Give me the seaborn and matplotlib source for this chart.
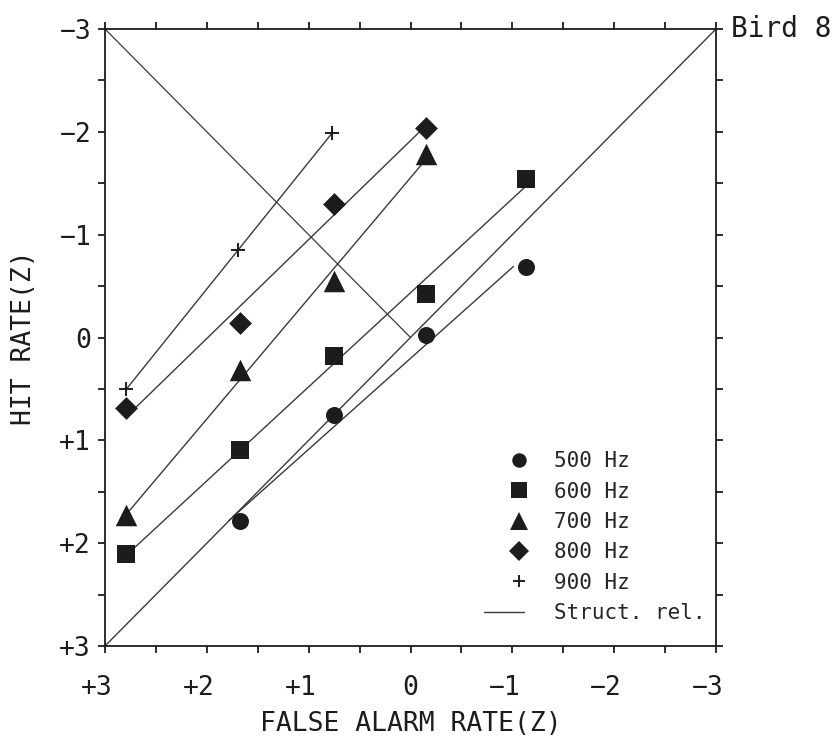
import numpy as np
import pandas as pd
import matplotlib
matplotlib.use("Agg")
import matplotlib.pyplot as plt
import seaborn as sns
from matplotlib.lines import Line2D
from matplotlib.legend_handler import HandlerLine2D
from matplotlib.transforms import ScaledTranslation

# z-transformed false alarm rate (x) and hit rate (y) per tone frequency
freqs = ["500 Hz", "600 Hz", "700 Hz", "800 Hz", "900 Hz"]
fa_500 = [1.67, 0.75, -0.15, -1.13]
hit_500 = [1.78, 0.75, -0.02, -0.69]
fa_600 = [2.79, 1.67, 0.75, -0.15, -1.13]
hit_600 = [2.11, 1.09, 0.18, -0.42, -1.54]
fa_700 = [2.79, 1.67, 0.75, -0.15]
hit_700 = [1.73, 0.32, -0.55, -1.78]
fa_800 = [2.79, 1.67, 0.75, -0.15]
hit_800 = [0.69, -0.14, -1.30, -2.04]
fa_900 = [2.79, 1.69, 0.77]
hit_900 = [0.50, -0.85, -1.99]

tick_values = [3, 2, 1, 0, -1, -2, -3]
tick_labels = ["+3", "+2", "+1", "0", "\u22121", "\u22122", "\u22123"]

series = {
    "500 Hz": (fa_500, hit_500),
    "600 Hz": (fa_600, hit_600),
    "700 Hz": (fa_700, hit_700),
    "800 Hz": (fa_800, hit_800),
    "900 Hz": (fa_900, hit_900),
}
df = pd.concat(
    [pd.DataFrame({"fa": x, "hit": y, "freq": f}) for f, (x, y) in series.items()],
    ignore_index=True,
)

marker_of = {"500 Hz": "o", "600 Hz": "s", "700 Hz": "^", "800 Hz": "D", "900 Hz": "+"}
size_of = {"500 Hz": 150, "600 Hz": 175, "700 Hz": 240, "800 Hz": 135, "900 Hz": 95}
ink = "#1c1c1c"
line_ink = "#3a3a3a"
mono = "DejaVu Sans Mono"

sns.set_theme(style="white")
plt.rcParams["font.family"] = [mono, "DejaVu Sans"]

fig = plt.figure(figsize=(8.4, 7.46), dpi=100)
ax = fig.add_axes([105 / 840, 1 - 646 / 746, 611 / 840, 617 / 746])

# reference diagonals
ax.plot([3, -3], [3, -3], color=line_ink, lw=1.0, zorder=1)
ax.plot([3, 0], [-3, 0], color=line_ink, lw=0.9, zorder=1)

# structural relation (reduced major axis) for each frequency,
# drawn across the hit-rate range of that frequency
for f, (x, y) in series.items():
    x = np.asarray(x)
    y = np.asarray(y)
    slope = np.std(y) / np.std(x)
    ys = np.array([y.max(), y.min()])
    xs = x.mean() + (ys - y.mean()) / slope
    ax.plot(xs, ys, color=line_ink, lw=1.0, zorder=2)

for f in freqs:
    sub = df[df["freq"] == f]
    is_plus = marker_of[f] == "+"
    sns.scatterplot(
        data=sub, x="fa", y="hit", marker=marker_of[f], s=size_of[f],
        color=ink, edgecolor=ink if not is_plus else None,
        linewidth=1.4 if is_plus else 0, ax=ax, zorder=3, legend=False,
    )

ax.set_xlim(3, -3)
ax.set_ylim(3, -3)
ax.set_xticks(tick_values)
ax.set_xticklabels(tick_labels)
ax.set_yticks(tick_values)
ax.set_yticklabels(tick_labels)
ax.set_xticks([2.5, 1.5, 0.5, -0.5, -1.5, -2.5], minor=True)
ax.set_yticks([2.5, 1.5, 0.5, -0.5, -1.5, -2.5], minor=True)
for which in ("major", "minor"):
    ax.tick_params(axis="both", which=which, direction="out", length=5, width=1.3,
                   color=ink, top=True, right=True, bottom=True, left=True)
ax.tick_params(axis="both", which="major", labelsize=19, labelcolor=ink)
ax.tick_params(axis="x", which="major", pad=16)
ax.tick_params(axis="y", which="major", pad=5)

# keep the digit centred under its tick, with the sign hanging to the left
half_char = 0.5 * 0.602 * 19 / 72
for lab in ax.get_xticklabels():
    if lab.get_text() != "0":
        lab.set_transform(lab.get_transform()
                          + ScaledTranslation(-half_char, 0, fig.dpi_scale_trans))

for sp in ax.spines.values():
    sp.set_visible(True)
    sp.set_color(ink)
    sp.set_linewidth(1.3)
ax.grid(False)

ax.set_xlabel("FALSE ALARM RATE(Z)", fontsize=19, color=ink, labelpad=7)
ax.set_ylabel("HIT RATE(Z)", fontsize=19, color=ink, labelpad=16)
ax.text(1.025, 1.0, "Bird 8", transform=ax.transAxes, fontsize=20, color=ink,
        ha="left", va="center")


class RightEndMarker(HandlerLine2D):
    """Place a legend marker at the right end of its handle box."""

    def create_artists(self, legend, orig_handle, xdescent, ydescent,
                       width, height, fontsize, trans):
        artists = super().create_artists(legend, orig_handle, xdescent, ydescent,
                                         width, height, fontsize, trans)
        for a in artists:
            xd = np.asarray(a.get_xdata(), float)
            a.set_xdata(np.full_like(xd, width - xdescent - 4))
        return artists


handles = [
    Line2D([], [], ls="none", marker=marker_of[f], color=ink,
           markersize=np.sqrt(size_of[f]) * 0.85,
           markeredgewidth=1.4 if f == "900 Hz" else 0)
    for f in freqs
]
handles.append(Line2D([], [], color=line_ink, lw=1.0))
ax.legend(handles, freqs + ["Struct. rel."], loc="lower right",
          bbox_to_anchor=(0.982, 0.037), frameon=False, borderaxespad=0,
          borderpad=0, handlelength=1.95, handletextpad=1.4, labelspacing=0.5,
          numpoints=1, prop={"family": mono, "size": 15},
          handler_map={h: RightEndMarker() for h in handles[:-1]})

fig.savefig("out.png", dpi=100)
